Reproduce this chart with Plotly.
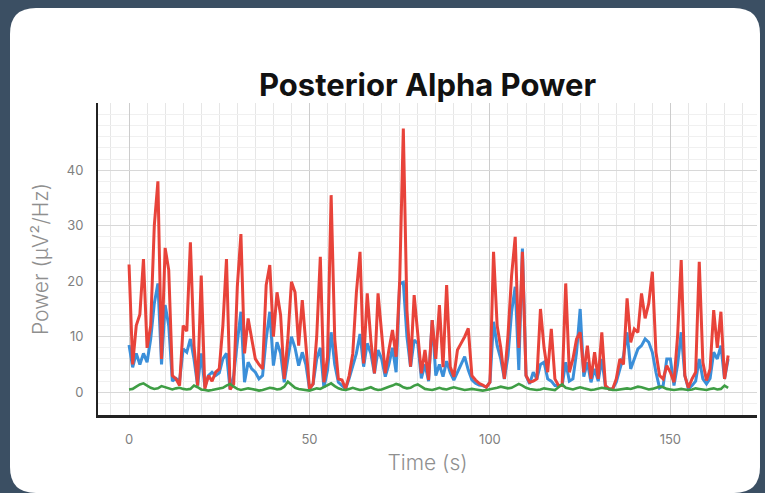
import plotly.graph_objects as go

# posterior alpha power, one sample per second
red_power = [
    23, 5, 12, 14, 24, 8, 12, 30, 38, 6,
    26, 22, 3, 2.4, 1.2, 12, 11, 27, 8.4, 1.2,
    21, 0.6, 3, 2, 3.6, 4.2, 12, 24, 0.5, 1.5,
    19, 28.5, 7, 13.3, 9.6, 6, 5, 4.2, 19.3, 22.9,
    10, 18, 13.9, 2.4, 9.6, 19.9, 18, 8.4, 16.6, 9,
    0.6, 1.5, 10, 24.4, 1.8, 6.3, 35.5, 9.6, 2.4, 2.2,
    0.6, 3, 7, 18, 25.3, 5.2, 17.8, 9.4, 3.4, 17.8,
    10.6, 3.4, 7.6, 11.2, 6.4, 20.2, 47.5, 14.8, 4.6, 17.5,
    10.5, 3.4, 7.6, 2.2, 13, 6, 15.7, 4.5, 19.3, 4.6,
    2.8, 7.6, 8.8, 10, 11.5, 3, 2.2, 1.6, 1.3, 0.9,
    1.8, 25.3, 12, 8, 2.4, 10.2, 21, 28, 8, 25.3,
    3, 1.8, 2, 2.4, 15, 8, 3.6, 11.4, 2.4, 1.2,
    1.2, 19.6, 3.6, 6, 9.6, 10.8, 3.6, 8.4, 2.4, 7.2,
    2.4, 10.8, 1.2, 0.6, 0.6, 2.4, 6, 5, 16.9, 9,
    11.4, 10.8, 17.8, 13.3, 16, 21.7, 7.2, 3, 2.4, 4.8,
    3.6, 1.8, 10.2, 23.8, 3, 0.8, 2.4, 3.6, 23.5, 5.4,
    2.1, 4.2, 14.8, 8, 14.5, 2.4, 6.6,
]

blue_power = [
    8.5, 4.5, 7, 5, 7, 5.4, 9.6, 16, 19.6, 5,
    15.7, 12, 2, 2.5, 2, 7.8, 7.2, 9.6, 6, 1.2,
    7, 1, 3, 3.6, 3, 3.5, 6, 7, 0.5, 3,
    9, 14.5, 1.8, 5.4, 4.2, 3.6, 2.4, 3, 9.6, 14.5,
    4.8, 9, 7, 1.8, 6, 10, 8, 4.8, 7.2, 5,
    0.6, 1.5, 6, 8, 0.8, 4, 10.8, 5, 1.8, 1.2,
    0.6, 2.5, 4.8, 7, 10.5, 4.6, 8.8, 7, 3.4, 7.6,
    6, 2.8, 5, 8, 3.6, 19.6, 19.8, 10, 4.6, 9.4,
    8.8, 2.5, 5, 2, 13, 3, 5, 2.8, 5.6, 3.5,
    2.2, 3.6, 5.2, 6.4, 4, 2.2, 1.6, 1.3, 1.2, 0.9,
    1.8, 12.7, 8.4, 6, 2.4, 6.5, 14.5, 19, 4, 25.9,
    3, 1.5, 3.6, 2.4, 5, 5.4, 2.4, 2, 1.2, 1.2,
    1.2, 5.4, 2, 2.4, 7.2, 15, 2.8, 5.4, 1.8, 4.2,
    2, 6, 1, 0.6, 0.6, 1.8, 4.2, 6.5, 10.8, 4.2,
    6, 7.8, 8.4, 9.6, 9, 7.2, 3.6, 0.8, 1.2, 6,
    6, 1.2, 5, 10.8, 3, 0.6, 1.2, 2, 6, 2.4,
    1.5, 2.5, 7.2, 6, 8.4, 2.4, 6,
]

green_power = [
    0.5, 0.6, 1.0, 1.4, 1.6, 1.2, 0.8, 0.6, 0.7, 1.1,
    0.9, 0.6, 0.5, 0.7, 0.8, 0.6, 0.5, 0.6, 1.2, 0.9,
    0.5, 0.4, 0.3, 0.4, 0.5, 0.6, 0.8, 1.2, 1.5, 1.0,
    0.6, 0.4, 0.5, 0.7, 0.6, 0.4, 0.3, 0.4, 0.6, 0.8,
    0.7, 0.5, 0.6, 1.0, 1.9, 1.3, 0.8, 0.6, 0.5, 0.4,
    0.3, 0.5, 0.7, 0.6, 0.9, 1.3, 1.6, 1.1, 0.7, 0.5,
    0.4, 0.6, 0.8, 0.6, 0.4, 0.5, 0.7, 0.9, 0.6, 0.4,
    0.5, 0.8, 1.0, 1.2, 1.5, 1.3, 0.9, 0.7, 0.8, 1.2,
    1.4, 1.0, 0.6, 0.5, 0.4, 0.6, 0.8, 0.6, 0.5, 0.7,
    0.9, 0.7, 0.5, 0.4, 0.5, 0.6, 0.5, 0.4, 0.3, 0.4,
    0.5, 0.6, 0.8, 1.0, 0.9, 0.7, 0.8, 1.1, 1.5, 1.2,
    0.8, 0.6, 0.5, 0.4, 0.5, 0.7, 0.6, 0.5, 0.4, 0.9,
    1.4, 0.8, 0.6, 0.5, 0.7, 0.9, 0.7, 0.5, 0.4, 0.5,
    0.6, 0.8, 0.7, 0.5, 0.4, 0.4, 0.5, 0.6, 0.7, 0.6,
    0.8, 1.0, 0.9, 0.7, 0.5, 0.6, 0.8, 1.0, 0.9, 0.6,
    0.5, 0.4, 0.5, 0.6, 0.5, 0.4, 0.5, 0.7, 0.6, 0.5,
    0.4, 0.6, 0.7, 0.5, 0.6, 1.2, 0.8,
]

y_ticks = [0, 10, 20, 30, 40]

n = min(len(red_power), len(blue_power), len(green_power))
time_s = list(range(n))

W, H = 765, 493
ML, MR, MT, MB = 98, 8, 103, 78
PW, PH = W - ML - MR, H - MT - MB


def px_to_paper(x, y):
    return (x - ML) / PW, (H - MB - y) / PH


def rounded_card(x0, y0, x1, y1, r):
    # svg path in paper coords for a rounded rect given in pixels
    def p(x, y):
        a, b = px_to_paper(x, y)
        return f"{a:.5f},{b:.5f}"
    pts = [
        "M" + p(x0 + r, y0),
        "L" + p(x1 - r, y0),
        "Q" + p(x1, y0) + " " + p(x1, y0 + r),
        "L" + p(x1, y1 - r),
        "Q" + p(x1, y1) + " " + p(x1 - r, y1),
        "L" + p(x0 + r, y1),
        "Q" + p(x0, y1) + " " + p(x0, y1 - r),
        "L" + p(x0, y0 + r),
        "Q" + p(x0, y0) + " " + p(x0 + r, y0),
    ]
    return " ".join(pts) + " Z"


fig = go.Figure()
fig.add_trace(go.Scatter(x=time_s, y=blue_power[:n], mode="lines",
                         line=dict(color="#3b8fd9", width=3), name="blue"))
fig.add_trace(go.Scatter(x=time_s, y=red_power[:n], mode="lines",
                         line=dict(color="#e8433a", width=3), name="red"))
fig.add_trace(go.Scatter(x=time_s, y=green_power[:n], mode="lines",
                         line=dict(color="#3f9e45", width=2.6), name="green"))

fig.add_shape(type="path", xref="paper", yref="paper", layer="below",
              path=rounded_card(10, 8, 760, 493, 26),
              fillcolor="white", line=dict(width=0))

tick_font = dict(family="Inter, Lato, sans-serif", size=13, color="#808080")
title_font = dict(family="Inter, Lato, sans-serif", size=21, color="#8f8f8f", weight=300)

fig.update_layout(
    width=W, height=H,
    margin=dict(l=ML, r=MR, t=MT, b=MB, autoexpand=False),
    paper_bgcolor="#3b4f63",
    plot_bgcolor="rgba(0,0,0,0)",
    showlegend=False,
    title=dict(text="<b>Posterior Alpha Power</b>", x=0.5, xref="paper",
               xanchor="center", y=1 - 85 / H, yanchor="middle",
               font=dict(family="Inter, Lato, sans-serif", size=31,
                         color="#111111", weight=800)),
    xaxis=dict(
        range=[-8.6, 174], tickmode="linear", tick0=0, dtick=50,
        automargin=False,
        showgrid=True, gridcolor="#cccccc", gridwidth=1,
        minor=dict(dtick=5, tick0=0, showgrid=True, gridcolor="#e6e6e6", gridwidth=1),
        showline=True, linecolor="#222222", linewidth=3,
        zeroline=False, ticks="", ticklabelstandoff=10,
        tickfont=tick_font,
        title=dict(text="Time (s)", font=title_font, standoff=10),
    ),
    yaxis=dict(
        range=[-4.1, 52.1], tickmode="array", tickvals=y_ticks,
        automargin=False,
        showgrid=True, gridcolor="#d8d8d8", gridwidth=1,
        minor=dict(tickmode="linear", dtick=2, tick0=0, showgrid=True,
                   gridcolor="#f0f0f0", gridwidth=1),
        showline=True, linecolor="#222222", linewidth=2,
        zeroline=False, ticks="", ticklabelstandoff=10,
        tickfont=tick_font,
        title=dict(text="Power (µV²/Hz)", font=title_font, standoff=12),
    ),
)

# page body has a default 8px margin; drop it so the figure sits at 0,0
fig.write_html("out.html", config={"displayModeBar": False},
               post_script="document.body.style.margin='0';")
